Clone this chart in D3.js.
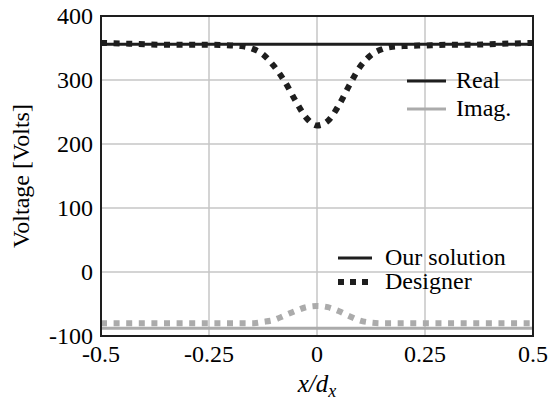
<!DOCTYPE html>
<html>
<head>
<meta charset="utf-8">
<script src="https://cdn.jsdelivr.net/npm/d3@7"></script>
</head>
<body style="margin:0">
<div id="chart"></div>
<script>
// sample positions along x/d_x
var xs = [-0.5, -0.45, -0.4, -0.35, -0.3, -0.25, -0.2, -0.175, -0.15, -0.125, -0.1, -0.075, -0.05, -0.025,
          0, 0.025, 0.05, 0.075, 0.1, 0.125, 0.15, 0.175, 0.2, 0.25, 0.3, 0.35, 0.4, 0.45, 0.5];

// our solution: flat real / imaginary voltages
var ourReal = xs.map(function() { return 356; });
var ourImag = xs.map(function() { return -88; });

// designer voltages
var designerReal = [358, 357, 356, 355, 355, 355, 354, 353, 349, 340, 322, 298, 268, 241,
                    229, 236, 260, 292, 321, 339, 348, 352, 353, 354, 355, 355, 356, 357, 358];
var designerImag = [-80, -80, -80, -80, -80, -80, -80, -80, -80, -78, -75, -68, -61, -55,
                    -53, -55, -61, -69, -76, -79, -80, -80, -80, -80, -80, -80, -80, -80, -80];

var xTicks = [-0.5, -0.25, 0, 0.25, 0.5];
var xTickLabels = ["-0.5", "-0.25", "0", "0.25", "0.5"];
var yTicks = [-100, 0, 100, 200, 300, 400];
var yTickLabels = ["-100", "0", "100", "200", "300", "400"];

var outerWidth = 549, outerHeight = 412;
var margin = { top: 16, right: 16, bottom: 76, left: 101 };
var width = outerWidth - margin.left - margin.right,
    height = outerHeight - margin.top - margin.bottom;

var black = "#1e1e1e", grey = "#ababab";
var serif = "'Liberation Serif', monospace";

var root = d3.select("#chart").append("svg")
  .attr("width", outerWidth)
  .attr("height", outerHeight)
  .attr("font-family", serif);

var svg = root.append("g")
  .attr("transform", "translate(" + margin.left + "," + margin.top + ")");

var xScale = d3.scaleLinear().domain([-0.5, 0.5]).range([0, width]);
var yScale = d3.scaleLinear().domain([-100, 400]).range([height, 0]);

// grid
svg.append("g").selectAll("line")
  .data(xTicks).enter().append("line")
  .attr("x1", function(d) { return xScale(d); })
  .attr("x2", function(d) { return xScale(d); })
  .attr("y1", 0).attr("y2", height)
  .attr("stroke", "#c6c6c6").attr("stroke-width", 1.5);

svg.append("g").selectAll("line")
  .data(yTicks).enter().append("line")
  .attr("y1", function(d) { return yScale(d); })
  .attr("y2", function(d) { return yScale(d); })
  .attr("x1", 0).attr("x2", width)
  .attr("stroke", "#c6c6c6").attr("stroke-width", 1.5);

// tick labels
svg.append("g").selectAll("text")
  .data(yTicks).enter().append("text")
  .attr("x", -8)
  .attr("y", function(d) { return yScale(d) + 8; })
  .attr("text-anchor", "end")
  .attr("font-family", function() { return serif; })
  .attr("font-size", 24)
  .text(function(d, i) { return yTickLabels[i]; });

svg.append("g").selectAll("text")
  .data(xTicks).enter().append("text")
  .attr("x", function(d) { return xScale(d); })
  .attr("y", height + 26)
  .attr("text-anchor", "middle")
  .attr("font-family", function() { return serif; })
  .attr("font-size", 24)
  .text(function(d, i) { return xTickLabels[i]; });

// curves
var line = d3.line()
  .x(function(d) { return xScale(d[0]); })
  .y(function(d) { return yScale(d[1]); })
  .curve(d3.curveMonotoneX);

function zipX(vals) { return xs.map(function(x, i) { return [x, vals[i]]; }); }

var series = [
  { vals: ourImag, color: grey, dotted: false },
  { vals: designerImag, color: grey, dotted: true },
  { vals: ourReal, color: black, dotted: false },
  { vals: designerReal, color: black, dotted: true }
];

svg.append("clipPath").attr("id", "plot-clip")
  .append("rect").attr("width", width).attr("height", height);

svg.append("g").attr("clip-path", "url(#plot-clip)")
  .selectAll("path")
  .data(series).enter().append("path")
  .attr("d", function(d) { return line(zipX(d.vals)); })
  .attr("fill", "none")
  .attr("stroke", function(d) { return d.color; })
  .attr("stroke-width", function(d) { return d.dotted ? 6 : 3; })
  .attr("stroke-dasharray", function(d) { return d.dotted ? "6 6.6" : null; });

// legends
var legendColor = svg.append("g").attr("transform", "translate(306,65)");
[["Real", black], ["Imag.", grey]].forEach(function(item, i) {
  legendColor.append("line")
    .attr("x1", 0).attr("x2", 39)
    .attr("y1", i * 28).attr("y2", i * 28)
    .attr("stroke", item[1]).attr("stroke-width", 3);
  legendColor.append("text")
    .attr("x", 49).attr("y", i * 28 + 7)
    .attr("font-family", serif)
    .attr("font-size", 24)
    .text(item[0]);
});

var legendStyle = svg.append("g").attr("transform", "translate(237,242)");
[["Our solution", false], ["Designer", true]].forEach(function(item, i) {
  legendStyle.append("line")
    .attr("x1", 0).attr("x2", 34)
    .attr("y1", i * 24).attr("y2", i * 24)
    .attr("stroke", black)
    .attr("stroke-width", item[1] ? 6 : 3)
    .attr("stroke-dasharray", item[1] ? "6 6" : null);
  legendStyle.append("text")
    .attr("x", 47).attr("y", i * 24 + 7)
    .attr("font-family", serif)
    .attr("font-size", 24)
    .text(item[0]);
});

// frame
svg.append("rect")
  .attr("width", width).attr("height", height)
  .attr("fill", "none").attr("stroke", black).attr("stroke-width", 2);

// axis titles
svg.append("text")
  .attr("transform", "rotate(-90)")
  .attr("x", -height / 2)
  .attr("y", -margin.left + 29)
  .attr("text-anchor", "middle")
  .attr("font-family", serif)
  .attr("font-size", 24)
  .text("Voltage [Volts]");

var xTitle = svg.append("text")
  .attr("x", width / 2)
  .attr("y", height + 56)
  .attr("text-anchor", "middle")
  .attr("font-family", serif)
  .attr("font-size", 25)
  .attr("font-style", "italic");
xTitle.append("tspan").text("x/d");
xTitle.append("tspan").attr("dy", 5).attr("font-size", 18).text("x");
</script>
</body>
</html>
